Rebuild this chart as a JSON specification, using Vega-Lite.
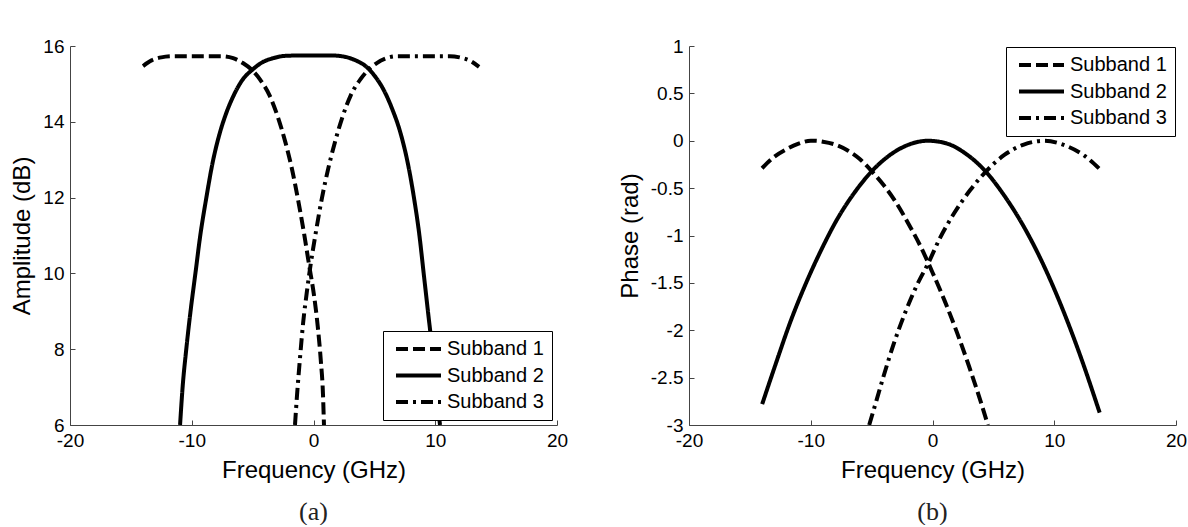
{
  "$schema": "https://vega.github.io/schema/vega-lite/v6.json",
  "background": "white",
  "padding": {"left": 10, "top": 37, "right": 0, "bottom": 0},
  "spacing": 50,
  "datasets": {
    "amp": [
      {"s": "Subband 1", "f": -14.0, "a": 15.47},
      {"s": "Subband 1", "f": -13.3, "a": 15.62},
      {"s": "Subband 1", "f": -12.5, "a": 15.70},
      {"s": "Subband 1", "f": -11.5, "a": 15.73},
      {"s": "Subband 1", "f": -9.5, "a": 15.73},
      {"s": "Subband 1", "f": -7.5, "a": 15.73},
      {"s": "Subband 1", "f": -6.6, "a": 15.68},
      {"s": "Subband 1", "f": -5.8, "a": 15.55},
      {"s": "Subband 1", "f": -5.0, "a": 15.35},
      {"s": "Subband 1", "f": -4.4, "a": 15.12},
      {"s": "Subband 1", "f": -3.6, "a": 14.69},
      {"s": "Subband 1", "f": -2.9, "a": 14.1},
      {"s": "Subband 1", "f": -2.3, "a": 13.45},
      {"s": "Subband 1", "f": -1.8, "a": 12.8},
      {"s": "Subband 1", "f": -1.3, "a": 12.0},
      {"s": "Subband 1", "f": -0.8, "a": 11.1},
      {"s": "Subband 1", "f": -0.35, "a": 10.2},
      {"s": "Subband 1", "f": 0.05, "a": 9.4},
      {"s": "Subband 1", "f": 0.35, "a": 8.6},
      {"s": "Subband 1", "f": 0.6, "a": 7.7},
      {"s": "Subband 1", "f": 0.78, "a": 6.8},
      {"s": "Subband 1", "f": 0.86, "a": 6.0},
      {"s": "Subband 2", "f": -10.96, "a": 6.0},
      {"s": "Subband 2", "f": -10.75, "a": 7.0},
      {"s": "Subband 2", "f": -10.45, "a": 8.0},
      {"s": "Subband 2", "f": -10.1, "a": 9.0},
      {"s": "Subband 2", "f": -9.7, "a": 10.0},
      {"s": "Subband 2", "f": -9.3, "a": 11.0},
      {"s": "Subband 2", "f": -8.8, "a": 12.0},
      {"s": "Subband 2", "f": -8.3, "a": 12.9},
      {"s": "Subband 2", "f": -7.7, "a": 13.7},
      {"s": "Subband 2", "f": -7.2, "a": 14.2},
      {"s": "Subband 2", "f": -6.55, "a": 14.7},
      {"s": "Subband 2", "f": -5.85, "a": 15.1},
      {"s": "Subband 2", "f": -5.0, "a": 15.38},
      {"s": "Subband 2", "f": -4.2, "a": 15.57},
      {"s": "Subband 2", "f": -3.3, "a": 15.68},
      {"s": "Subband 2", "f": -2.3, "a": 15.74},
      {"s": "Subband 2", "f": -1.0, "a": 15.75},
      {"s": "Subband 2", "f": 1.5, "a": 15.75},
      {"s": "Subband 2", "f": 2.5, "a": 15.72},
      {"s": "Subband 2", "f": 3.4, "a": 15.63},
      {"s": "Subband 2", "f": 4.35, "a": 15.45},
      {"s": "Subband 2", "f": 5.05, "a": 15.2},
      {"s": "Subband 2", "f": 5.75, "a": 14.85},
      {"s": "Subband 2", "f": 6.45, "a": 14.35},
      {"s": "Subband 2", "f": 7.15, "a": 13.7},
      {"s": "Subband 2", "f": 7.75, "a": 12.9},
      {"s": "Subband 2", "f": 8.25, "a": 12.0},
      {"s": "Subband 2", "f": 8.7, "a": 11.0},
      {"s": "Subband 2", "f": 9.05, "a": 10.0},
      {"s": "Subband 2", "f": 9.4, "a": 9.0},
      {"s": "Subband 2", "f": 9.75, "a": 8.0},
      {"s": "Subband 2", "f": 10.05, "a": 7.0},
      {"s": "Subband 2", "f": 10.39, "a": 6.0},
      {"s": "Subband 3", "f": -1.52, "a": 6.0},
      {"s": "Subband 3", "f": -1.35, "a": 6.8},
      {"s": "Subband 3", "f": -1.1, "a": 7.8},
      {"s": "Subband 3", "f": -0.85, "a": 8.7},
      {"s": "Subband 3", "f": -0.55, "a": 9.5},
      {"s": "Subband 3", "f": -0.25, "a": 10.2},
      {"s": "Subband 3", "f": 0.2, "a": 11.1},
      {"s": "Subband 3", "f": 0.7, "a": 12.0},
      {"s": "Subband 3", "f": 1.2, "a": 12.75},
      {"s": "Subband 3", "f": 1.75, "a": 13.45},
      {"s": "Subband 3", "f": 2.35, "a": 14.1},
      {"s": "Subband 3", "f": 3.05, "a": 14.69},
      {"s": "Subband 3", "f": 3.85, "a": 15.12},
      {"s": "Subband 3", "f": 4.45, "a": 15.35},
      {"s": "Subband 3", "f": 5.2, "a": 15.55},
      {"s": "Subband 3", "f": 6.0, "a": 15.68},
      {"s": "Subband 3", "f": 6.9, "a": 15.73},
      {"s": "Subband 3", "f": 9.0, "a": 15.73},
      {"s": "Subband 3", "f": 11.2, "a": 15.73},
      {"s": "Subband 3", "f": 12.0, "a": 15.70},
      {"s": "Subband 3", "f": 12.8, "a": 15.62},
      {"s": "Subband 3", "f": 13.6, "a": 15.45}
    ],
    "phase": [
      {"s": "Subband 1", "f": -14.0, "p": -0.29},
      {"s": "Subband 1", "f": -13.0, "p": -0.17},
      {"s": "Subband 1", "f": -12.0, "p": -0.09},
      {"s": "Subband 1", "f": -11.0, "p": -0.03},
      {"s": "Subband 1", "f": -10.0, "p": 0.0},
      {"s": "Subband 1", "f": -9.6, "p": 0.0},
      {"s": "Subband 1", "f": -9.0, "p": -0.01},
      {"s": "Subband 1", "f": -8.0, "p": -0.04},
      {"s": "Subband 1", "f": -7.0, "p": -0.10},
      {"s": "Subband 1", "f": -6.0, "p": -0.19},
      {"s": "Subband 1", "f": -5.0, "p": -0.32},
      {"s": "Subband 1", "f": -4.0, "p": -0.47},
      {"s": "Subband 1", "f": -3.0, "p": -0.65},
      {"s": "Subband 1", "f": -2.0, "p": -0.87},
      {"s": "Subband 1", "f": -1.0, "p": -1.11},
      {"s": "Subband 1", "f": 0.0, "p": -1.39},
      {"s": "Subband 1", "f": 1.0, "p": -1.69},
      {"s": "Subband 1", "f": 2.0, "p": -2.02},
      {"s": "Subband 1", "f": 3.0, "p": -2.38},
      {"s": "Subband 1", "f": 4.0, "p": -2.77},
      {"s": "Subband 1", "f": 4.55, "p": -3.0},
      {"s": "Subband 2", "f": -13.99, "p": -2.78},
      {"s": "Subband 2", "f": -12.89, "p": -2.36},
      {"s": "Subband 2", "f": -11.64, "p": -1.9},
      {"s": "Subband 2", "f": -10.38, "p": -1.5},
      {"s": "Subband 2", "f": -9.13, "p": -1.15},
      {"s": "Subband 2", "f": -7.88, "p": -0.84},
      {"s": "Subband 2", "f": -6.31, "p": -0.53},
      {"s": "Subband 2", "f": -4.9, "p": -0.31},
      {"s": "Subband 2", "f": -3.49, "p": -0.15},
      {"s": "Subband 2", "f": -1.93, "p": -0.04},
      {"s": "Subband 2", "f": -0.36, "p": 0.0},
      {"s": "Subband 2", "f": 1.2, "p": -0.03},
      {"s": "Subband 2", "f": 2.77, "p": -0.14},
      {"s": "Subband 2", "f": 4.34, "p": -0.32},
      {"s": "Subband 2", "f": 5.9, "p": -0.58},
      {"s": "Subband 2", "f": 7.47, "p": -0.9},
      {"s": "Subband 2", "f": 9.04, "p": -1.29},
      {"s": "Subband 2", "f": 10.6, "p": -1.75},
      {"s": "Subband 2", "f": 12.17, "p": -2.28},
      {"s": "Subband 2", "f": 13.73, "p": -2.87},
      {"s": "Subband 3", "f": -5.2, "p": -3.0},
      {"s": "Subband 3", "f": -4.6, "p": -2.74},
      {"s": "Subband 3", "f": -4.1, "p": -2.52},
      {"s": "Subband 3", "f": -3.2, "p": -2.15},
      {"s": "Subband 3", "f": -2.2, "p": -1.8},
      {"s": "Subband 3", "f": -1.3, "p": -1.53},
      {"s": "Subband 3", "f": -0.3, "p": -1.28},
      {"s": "Subband 3", "f": 0.6, "p": -1.03},
      {"s": "Subband 3", "f": 1.8, "p": -0.76},
      {"s": "Subband 3", "f": 3.1, "p": -0.52},
      {"s": "Subband 3", "f": 4.35, "p": -0.33},
      {"s": "Subband 3", "f": 5.9, "p": -0.15},
      {"s": "Subband 3", "f": 7.5, "p": -0.04},
      {"s": "Subband 3", "f": 9.2, "p": 0.0},
      {"s": "Subband 3", "f": 10.9, "p": -0.05},
      {"s": "Subband 3", "f": 12.5, "p": -0.16},
      {"s": "Subband 3", "f": 13.75, "p": -0.3}
    ]
  },
  "config": {
    "view": {"stroke": null},
    "axis": {
      "grid": false,
      "domainColor": "#444444",
      "domainWidth": 1,
      "tickColor": "#444444",
      "tickSize": -5,
      "labelPadding": 11,
      "labelFont": "Liberation Sans",
      "labelFontSize": 19,
      "labelColor": "black",
      "labelFlush": false,
      "labelOverlap": false,
      "titleFont": "Liberation Sans",
      "titleFontSize": 24,
      "titleFontWeight": "normal",
      "titleColor": "black",
      "titlePadding": 8,
      "labelExpr": "toString(datum.value)"
    },
    "legend": {
      "title": null,
      "symbolType": "M-1,0L8,0",
      "symbolSize": 100,
      "symbolStrokeWidth": 4,
      "symbolStrokeColor": "black",
      "symbolFillColor": "transparent",
      "labelFont": "Liberation Sans",
      "labelFontSize": 20,
      "labelColor": "black",
      "labelOffset": 36,
      "rowPadding": 6.5,
      "padding": 8,
      "strokeColor": "black",
      "fillColor": "white"
    },
    "title": {
      "font": "Liberation Serif",
      "fontSize": 26,
      "fontWeight": "normal",
      "color": "#222222"
    }
  },
  "resolve": {
    "scale": {"strokeDash": "independent", "x": "independent", "y": "independent"},
    "legend": {"strokeDash": "independent"}
  },
  "hconcat": [
    {
      "width": 487,
      "height": 379,
      "title": {"text": "(a)", "orient": "bottom", "frame": "group", "anchor": "middle", "offset": 17},
      "data": {"name": "amp"},
      "mark": {"type": "line", "color": "black", "strokeWidth": 4, "clip": true, "strokeCap": "butt", "interpolate": "monotone"},
      "encoding": {
        "x": {"field": "f", "type": "quantitative", "title": "Frequency (GHz)",
              "scale": {"domain": [-20, 20], "nice": false, "zero": false},
              "axis": {"values": [-20, -10, 0, 10, 20]}},
        "y": {"field": "a", "type": "quantitative", "title": "Amplitude (dB)",
              "scale": {"domain": [6, 16], "nice": false, "zero": false},
              "axis": {"values": [6, 8, 10, 12, 14, 16]}},
        "strokeDash": {"field": "s", "type": "nominal",
              "scale": {"domain": ["Subband 1", "Subband 2", "Subband 3"], "range": [[12, 5], [1, 0], [12, 5, 3, 5]]},
              "legend": {"orient": "bottom-right", "offset": 5, "title": null, "symbolType": "M-1,0L8,0"}}
      }
    },
    {
      "width": 487,
      "height": 379,
      "title": {"text": "(b)", "orient": "bottom", "frame": "group", "anchor": "middle", "offset": 17},
      "data": {"name": "phase"},
      "mark": {"type": "line", "color": "black", "strokeWidth": 4, "clip": true, "strokeCap": "butt", "interpolate": "monotone"},
      "encoding": {
        "x": {"field": "f", "type": "quantitative", "title": "Frequency (GHz)",
              "scale": {"domain": [-20, 20], "nice": false, "zero": false},
              "axis": {"values": [-20, -10, 0, 10, 20]}},
        "y": {"field": "p", "type": "quantitative", "title": "Phase (rad)",
              "scale": {"domain": [-3, 1], "nice": false, "zero": false},
              "axis": {"values": [-3, -2.5, -2, -1.5, -1, -0.5, 0, 0.5, 1]}},
        "strokeDash": {"field": "s", "type": "nominal",
              "scale": {"domain": ["Subband 1", "Subband 2", "Subband 3"], "range": [[12, 5], [1, 0], [12, 5, 3, 5]]},
              "legend": {"orient": "top-right", "offset": 1, "title": null, "symbolType": "M-1,0L8,0"}}
      }
    }
  ]
}
